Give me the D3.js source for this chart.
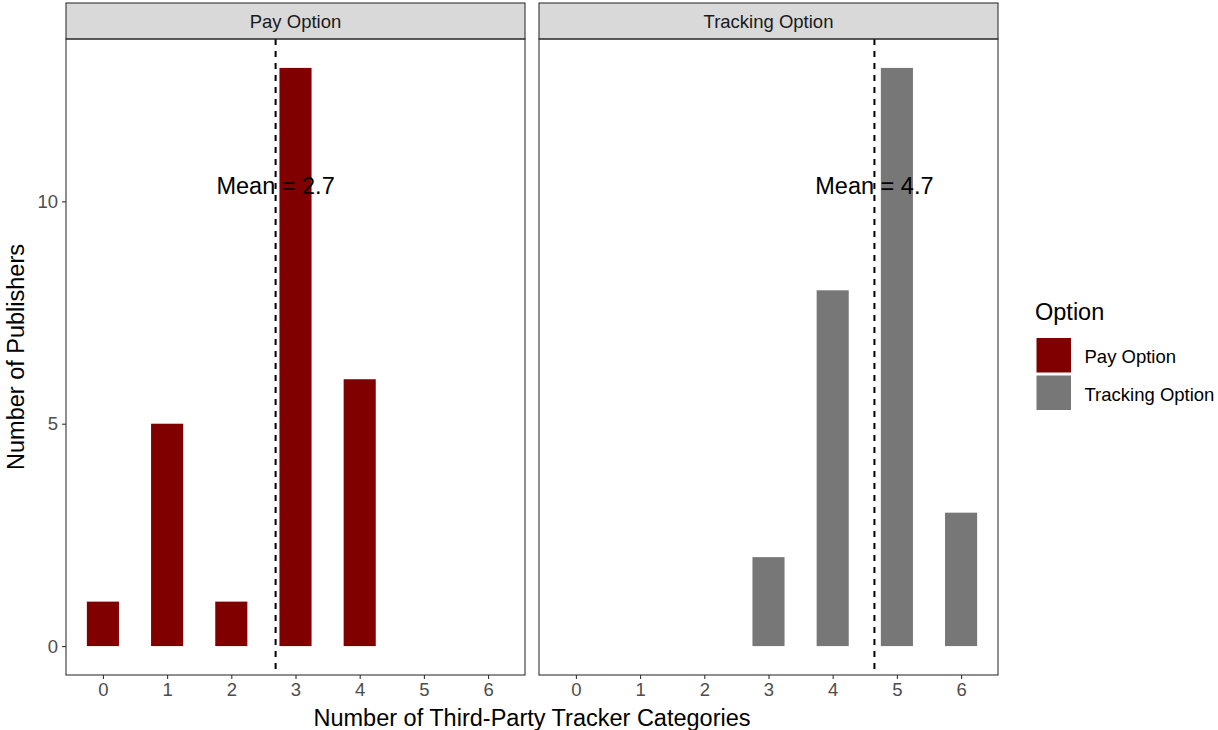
<!DOCTYPE html>
<html><head><meta charset="utf-8">
<script src="https://cdn.jsdelivr.net/npm/d3@7"></script>
<style>body{margin:0;background:#fff;} text{font-family:Arial,"Liberation Sans",sans-serif;}</style>
</head><body>
<svg id="chart" width="1218" height="730"></svg>
<script>
const panels = ["Pay Option", "Tracking Option"];
const categories = [0, 1, 2, 3, 4, 5, 6];
const payValues = [1, 5, 1, 13, 6, 0, 0];
const trackingValues = [0, 0, 0, 2, 8, 13, 3];
const means = [2.69, 4.65];
const meanLabels = ["Mean = 2.7", "Mean = 4.7"];
const yTicks = [0, 5, 10];
const colors = ["#800000", "#777777"];

(function () {
const svg = d3.select("#chart");
const panelX = [66, 539], panelW = 459;
const pTop = 39, pBottom = 675, stripTop = 3;

const x0 = d3.scaleLinear().domain([-0.575, 6.575]).range([0, panelW]);
const y = d3.scaleLinear().domain([-0.65, 13.65]).range([pBottom, pTop]);
const series = [payValues, trackingValues];
const FONT = "Arial,'Liberation Sans',sans-serif";
const small = 18.5, big = 23.5;

panels.forEach((name, i) => {
  const g = svg.append("g").attr("transform", `translate(${panelX[i]},0)`);
  g.append("rect").attr("x", 0).attr("y", stripTop).attr("width", panelW).attr("height", pTop - stripTop)
    .attr("fill", "#d9d9d9").attr("stroke", "#333").attr("stroke-width", 1.1);
  g.append("text").attr("x", panelW / 2).attr("y", 27.5).attr("text-anchor", "middle")
    .attr("font-size", small).attr("fill", "#1a1a1a").text(name);
  const data = categories.map((c, k) => ({c, v: series[i][k]})).filter(d => d.v > 0);
  g.selectAll("rect.bar").data(data).enter().append("rect").attr("class", "bar")
    .attr("x", d => x0(d.c - 0.25)).attr("width", x0(0.25) - x0(-0.25))
    .attr("y", d => y(d.v)).attr("height", d => y(0) - y(d.v))
    .attr("fill", colors[i]);
  g.append("line").attr("x1", x0(means[i])).attr("x2", x0(means[i])).attr("y1", pTop).attr("y2", pBottom)
    .attr("stroke", "#000").attr("stroke-width", 2).attr("stroke-dasharray", "6,6");
  g.append("text").attr("x", x0(means[i])).attr("y", 193.5).attr("text-anchor", "middle")
    .attr("font-size", big).attr("fill", "#000").text(meanLabels[i]);
  g.append("rect").attr("x", 0).attr("y", pTop).attr("width", panelW).attr("height", pBottom - pTop)
    .attr("fill", "none").attr("stroke", "#333").attr("stroke-width", 1.1);
  const xa = g.append("g").attr("transform", `translate(0,${pBottom})`)
    .call(d3.axisBottom(x0).tickValues(categories).tickSize(4).tickPadding(4).tickFormat(d3.format("d")));
  xa.select(".domain").remove();
  xa.selectAll("line").attr("stroke", "#333").attr("stroke-width", 1.1);
  xa.selectAll("text").attr("font-size", small).attr("fill", "#4d4d4d").style("font-family", FONT);
  if (i === 0) {
    const ya = g.append("g").call(d3.axisLeft(y).tickValues(yTicks).tickSize(4).tickPadding(4));
    ya.select(".domain").remove();
    ya.selectAll("line").attr("stroke", "#333").attr("stroke-width", 1.1);
    ya.selectAll("text").attr("font-size", small).attr("fill", "#4d4d4d").style("font-family", FONT);
  }
});

svg.append("text").attr("x", (66 + 998) / 2).attr("y", 725.5).attr("text-anchor", "middle")
  .attr("font-size", big).attr("fill", "#000").text("Number of Third-Party Tracker Categories");
svg.append("text").attr("transform", `translate(24,${(pTop + pBottom) / 2}) rotate(-90)`).attr("text-anchor", "middle")
  .attr("font-size", big).attr("fill", "#000").text("Number of Publishers");

const lg = svg.append("g");
lg.append("text").attr("x", 1035).attr("y", 320).attr("font-size", big).attr("fill", "#000").text("Option");
panels.forEach((name, i) => {
  lg.append("rect").attr("x", 1036.5).attr("y", 338 + i * 37.5).attr("width", 34.5).attr("height", 34.5).attr("fill", colors[i]);
  lg.append("text").attr("x", 1084.5).attr("y", 363 + i * 37.5).attr("font-size", small).attr("fill", "#000").text(name);
});
})();
</script>
</body></html>
